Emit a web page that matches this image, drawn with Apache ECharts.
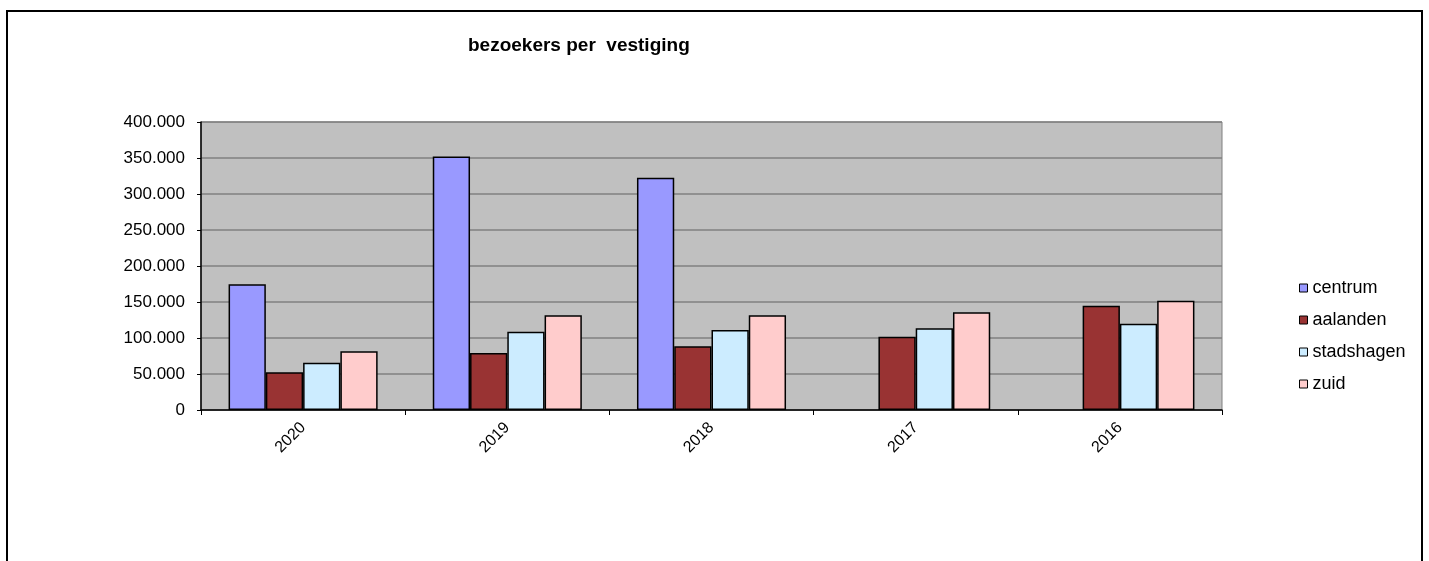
<!DOCTYPE html>
<html>
<head>
<meta charset="utf-8">
<script src="https://cdn.jsdelivr.net/npm/echarts@6/dist/echarts.min.js"></script>
<style>
html,body{margin:0;padding:0;background:#fff;}
#chart{width:1429px;height:561px;}
</style>
</head>
<body>
<div id="chart"></div>
<script>
const categories = ['2020', '2019', '2018', '2017', '2016'];
const centrum = [174500, 352000, 322700, null, null];
const aalanden = [52300, 79200, 88400, 101900, 144900];
const stadshagen = [65700, 108800, 111100, 113400, 119900];
const zuid = [81500, 131500, 131500, 135600, 151900];
const yTicks = { min: 0, max: 400000, interval: 50000 };

const FONT = '"Liberation Sans", Arial, sans-serif';
function fmt(v) {
  return String(v).replace(/\B(?=(\d{3})+(?!\d))/g, '.');
}
function bar(name, data, color) {
  return {
    name: name, type: 'bar', data: data,
    barGap: '0%', barCategoryGap: '27%',
    itemStyle: { color: color, borderColor: '#000', borderWidth: 1.5 },
    emphasis: { disabled: true }
  };
}
const chart = echarts.init(document.getElementById('chart'), null, { renderer: 'canvas' });
chart.setOption({
  animation: false,
  backgroundColor: '#ffffff',
  textStyle: { fontFamily: FONT },
  title: {
    text: 'bezoekers per  vestiging',
    left: 468, top: 36, padding: 0,
    textStyle: { fontFamily: FONT, fontSize: 19, fontWeight: 'bold', color: '#000' }
  },
  graphic: [{
    type: 'rect', silent: true,
    shape: { x: 7, y: 11, width: 1415, height: 570 },
    style: { fill: null, stroke: '#000', lineWidth: 2 }
  }],
  legend: {
    orient: 'vertical', left: 1299, top: 279, padding: 0,
    itemWidth: 8, itemHeight: 8, itemGap: 14, icon: 'rect',
    textStyle: { fontFamily: FONT, fontSize: 18, color: '#000', lineHeight: 18 },
    itemStyle: { borderColor: '#000', borderWidth: 1 }
  },
  grid: { left: 201, right: 207, top: 122, bottom: 151, show: true, backgroundColor: '#C0C0C0', borderColor: '#808080', borderWidth: 1 },
  xAxis: {
    type: 'category', data: categories,
    axisLine: { lineStyle: { color: '#000', width: 1.5 } },
    axisTick: { show: true, length: 5, alignWithLabel: false, lineStyle: { color: '#000' } },
    axisLabel: { rotate: 45, margin: 15, fontSize: 16, color: '#000', fontFamily: FONT },
    splitLine: { show: false }
  },
  yAxis: {
    type: 'value', min: yTicks.min, max: yTicks.max, interval: yTicks.interval,
    axisLine: { show: true, lineStyle: { color: '#000', width: 1.5 } },
    axisTick: { show: true, length: 4, lineStyle: { color: '#000' } },
    axisLabel: { fontSize: 17, color: '#000', margin: 16, fontFamily: FONT, formatter: fmt },
    splitLine: { show: true, lineStyle: { color: '#808080', width: 1.5 } }
  },
  series: [
    bar('centrum', centrum, '#9999FF'),
    bar('aalanden', aalanden, '#993333'),
    bar('stadshagen', stadshagen, '#CCECFF'),
    bar('zuid', zuid, '#FFCCCC')
  ]
});
</script>
</body>
</html>
